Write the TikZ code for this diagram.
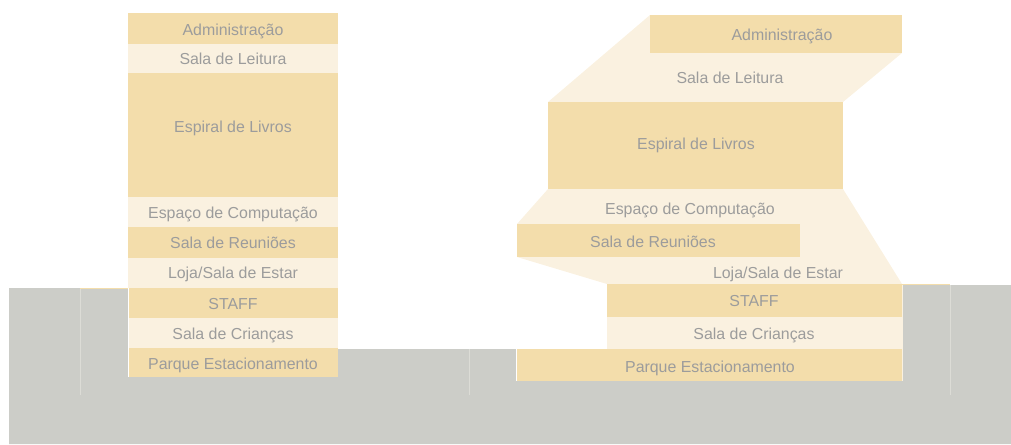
\documentclass[tikz,border=0pt]{standalone}
\usepackage{fontspec}
\setmainfont{Liberation Sans}
\definecolor{darkband}{HTML}{F3DDAB}
\definecolor{lightband}{HTML}{FAF1E0}
\definecolor{ground}{HTML}{CCCDC8}
\definecolor{groundline}{HTML}{DCDCD6}
\definecolor{labelgray}{HTML}{9C9C9C}
\begin{document}
\begin{tikzpicture}[x=1pt,y=-1pt,
  lbl/.style={anchor=base,inner sep=0pt,text=labelgray,font=\fontsize{15.9}{18}\selectfont},
  dk/.style={fill=darkband},
  lt/.style={fill=lightband},
  seam/.style={draw=groundline,line width=1pt}]
\useasboundingbox (0,0) rectangle (1011,444);
% ground
\fill[ground] (9,288) -- (128,288) -- (128,349) -- (902,349) -- (902,285) -- (1011,285) -- (1011,444) -- (9,444) -- cycle;
\draw[seam] (80,288) -- (80,395);
\draw[seam] (469,349) -- (469,395);
\draw[seam] (950,285) -- (950,395);
\draw[darkband,line width=1pt] (80,288) -- (128,288);
\draw[darkband,line width=1pt] (902,284.5) -- (950,284.5);
% left tower
\fill[dk] (128,13) rectangle (338,44);
\fill[lt] (128,44) rectangle (338,73);
\fill[dk] (128,73) rectangle (338,197);
\fill[lt] (128,197) rectangle (338,227);
\fill[dk] (128,227) rectangle (338,258);
\fill[lt] (128,258) rectangle (338,288);
\fill[dk] (128,288) rectangle (338,318);
\fill[lt] (128,318) rectangle (338,348);
\fill[dk] (128,348) rectangle (338,377);
\draw[white,line width=0.8pt] (128,288) -- (128,377);
\node[lbl] (la) at (233,36) {Administração};
\node[lbl] (ll) at (233,64) {Sala de Leitura};
\node[lbl] (le) at (233,132) {Espiral de Livros};
\node[lbl] (lc) at (233,218) {Espaço de Computação};
\node[lbl] (lr) at (233,248) {Sala de Reuniões};
\node[lbl] (lj) at (233,278) {Loja/Sala de Estar};
\node[lbl] (ls) at (233,309) {STAFF};
\node[lbl] (lk) at (233,339) {Sala de Crianças};
\node[lbl] (lp) at (233,369) {Parque Estacionamento};
% right building
\fill[lt] (650,15) -- (650,53) -- (902,53) -- (843,102) -- (548,102) -- cycle;
\fill[dk] (650,15) rectangle (902,53);
\fill[dk] (548,102) rectangle (843,189);
\fill[lt] (548,189) -- (843,189) -- (902,284) -- (607,284) -- (517,257) -- (517,224) -- cycle;
\fill[dk] (517,224) rectangle (800,257);
\fill[dk] (607,284) rectangle (902,317);
\fill[lt] (607,317) rectangle (902,349);
\fill[dk] (516,349) rectangle (902,381);
\draw[white,line width=0.8pt] (516,349) -- (516,381);
\draw[lightband,line width=0.8pt] (902,285) -- (902,381);
\node[lbl] (ra) at (782,41) {Administração};
\node[lbl] (rl) at (730,83) {Sala de Leitura};
\node[lbl] (re) at (696,149) {Espiral de Livros};
\node[lbl] (rc) at (690,214) {Espaço de Computação};
\node[lbl] (rr) at (653,247) {Sala de Reuniões};
\node[lbl] (rj) at (778,278) {Loja/Sala de Estar};
\node[lbl] (rs) at (754,306) {STAFF};
\node[lbl] (rk) at (754,339) {Sala de Crianças};
\node[lbl] (rp) at (710,372) {Parque Estacionamento};
\end{tikzpicture}
\end{document}
